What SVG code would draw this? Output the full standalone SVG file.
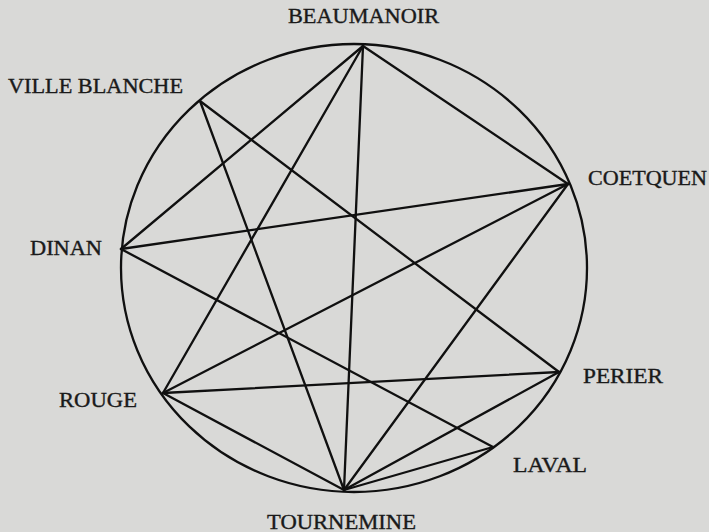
<svg xmlns="http://www.w3.org/2000/svg" width="709" height="532" viewBox="0 0 709 532">
<style>
.bg{fill:#d9d9d7}
.ring{fill:none;stroke:#101010;stroke-width:2.3}
.edge{stroke:#101010;stroke-width:2.3;stroke-linecap:round}
.lbl{font-family:"Liberation Serif","Times New Roman",serif;font-size:20px;fill:#1a1a1a;stroke:#1a1a1a;stroke-width:0.35}
</style>
<rect class="bg" x="0" y="0" width="709" height="532"/>
<ellipse id="circle" class="ring" cx="354" cy="268" rx="233" ry="224"/>
<g id="connectors">
<line class="edge" x1="363" y1="46" x2="121" y2="249"/>
<line class="edge" x1="363" y1="46" x2="163" y2="393"/>
<line class="edge" x1="363" y1="46" x2="344" y2="490"/>
<line class="edge" x1="363" y1="46" x2="568" y2="184"/>
<line class="edge" x1="200" y1="101" x2="344" y2="490"/>
<line class="edge" x1="200" y1="101" x2="559" y2="372"/>
<line class="edge" x1="568" y1="184" x2="121" y2="249"/>
<line class="edge" x1="568" y1="184" x2="163" y2="393"/>
<line class="edge" x1="568" y1="184" x2="344" y2="490"/>
<line class="edge" x1="121" y1="249" x2="493" y2="447"/>
<line class="edge" x1="559" y1="372" x2="163" y2="393"/>
<line class="edge" x1="559" y1="372" x2="344" y2="490"/>
<line class="edge" x1="163" y1="393" x2="344" y2="490"/>
<line class="edge" x1="493" y1="447" x2="344" y2="490"/>
</g>
<g id="beaumanoir"><text class="lbl" x="288" y="23" textLength="151" lengthAdjust="spacingAndGlyphs">BEAUMANOIR</text></g>
<g id="ville-blanche"><text class="lbl" x="8" y="93" textLength="175" lengthAdjust="spacingAndGlyphs">VILLE BLANCHE</text></g>
<g id="coetquen"><text class="lbl" x="588" y="185" textLength="119" lengthAdjust="spacingAndGlyphs">COETQUEN</text></g>
<g id="dinan"><text class="lbl" x="30" y="255" textLength="72" lengthAdjust="spacingAndGlyphs">DINAN</text></g>
<g id="perier"><text class="lbl" x="583" y="383" textLength="80" lengthAdjust="spacingAndGlyphs">PERIER</text></g>
<g id="rouge"><text class="lbl" x="59" y="407" textLength="78" lengthAdjust="spacingAndGlyphs">ROUGE</text></g>
<g id="laval"><text class="lbl" x="513" y="472" textLength="74" lengthAdjust="spacingAndGlyphs">LAVAL</text></g>
<g id="tournemine"><text class="lbl" x="267" y="529" textLength="149" lengthAdjust="spacingAndGlyphs">TOURNEMINE</text></g>
</svg>
